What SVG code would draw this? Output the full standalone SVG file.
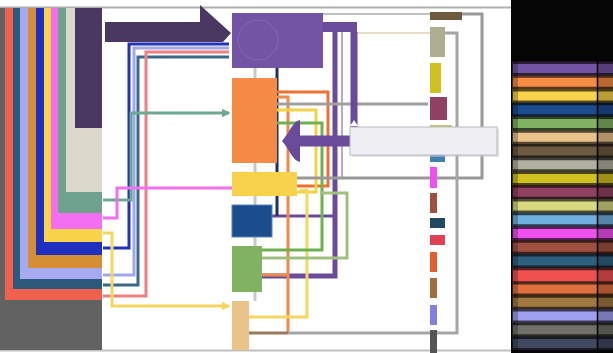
<svg xmlns="http://www.w3.org/2000/svg" width="613" height="353" viewBox="0 0 613 353">
<style>
.c{fill:none;stroke-linejoin:miter}
.w3{stroke-width:3}
.w2{stroke-width:2}
</style>
<defs>
<marker id="ahT" viewBox="0 0 6 6" refX="5" refY="3" markerWidth="3" markerHeight="3" orient="auto"><path d="M0,0L6,3L0,6Z" fill="#6fa890"/></marker>
<marker id="ahY" viewBox="0 0 6 6" refX="5" refY="3" markerWidth="3" markerHeight="3" orient="auto"><path d="M0,0L6,3L0,6Z" fill="#f5d660"/></marker>
</defs>
<rect width="613" height="353" fill="#ffffff"/>
<line x1="0" y1="7.5" x2="511" y2="7.5" stroke="#b0b0b0" stroke-width="2"/>
<line x1="0" y1="350.5" x2="511" y2="350.5" stroke="#c0c0c0" stroke-width="2"/>

<g id="sources">
<rect x="0" y="8" width="102" height="342" fill="#626262"/>
<rect x="5" y="8" width="97" height="292" fill="#f0604f"/>
<rect x="13" y="8" width="89" height="281" fill="#2b5a7a"/>
<rect x="20" y="8" width="82" height="271" fill="#a7aaf0"/>
<rect x="28" y="8" width="74" height="260" fill="#d48f35"/>
<rect x="36" y="8" width="66" height="247" fill="#1f2fbf"/>
<rect x="44" y="8" width="58" height="234" fill="#f9d44a"/>
<rect x="51" y="8" width="51" height="221" fill="#f36ef0"/>
<rect x="58" y="8" width="44" height="205" fill="#6fa18f"/>
<rect x="66" y="8" width="36" height="184" fill="#dcd8cc"/>
<rect x="75" y="8" width="27" height="120" fill="#4b3862"/>
</g>

<g id="connectors">
<line x1="255" y1="68" x2="255" y2="301" stroke="#c8c8c8" stroke-width="3"/>
<polyline class="c w3" stroke="#2233bb" points="103,248 129,248 129,44 229,44"/>
<polyline class="c w3" stroke="#a0a8e8" points="103,275 134,275 134,48 229,48"/>
<polyline class="c w3" stroke="#3a6888" points="103,285 138,285 138,57 229,57"/>
<polyline class="c w3" stroke="#ee8080" points="103,296 146,296 146,52 229,52"/>
<polyline class="c w3" stroke="#6fa890" points="103,200 131,200 131,113 229,113" marker-end="url(#ahT)"/>
<polyline class="c w3" stroke="#f070f0" points="103,218 117,218 117,188 232,188"/>
<polyline class="c w3" stroke="#f5d660" points="103,233 112,233 112,306 229,306" marker-end="url(#ahY)"/>

<polygon points="105,22 200,22 200,5 231,33 223,42 105,42" fill="#4b3862"/>
<rect x="323" y="22" width="34" height="10" fill="#6a4a9a"/>
<line x1="323" y1="14" x2="430" y2="14" stroke="#c0c0c0" stroke-width="2"/>
<line x1="357" y1="33" x2="430" y2="33" stroke="#e4dfc4" stroke-width="2"/>
<line x1="342" y1="32" x2="342" y2="178" stroke="#b8a8d8" stroke-width="2"/>
<polyline class="c" stroke="#6a4a9a" stroke-width="5" points="335,32 335,276 262,276"/>
<polyline class="c" stroke="#6a4a9a" stroke-width="3" points="272,216 335,216"/>
<polyline class="c w3" stroke="#23305a" points="277,68 277,216"/>
<polyline class="c w3" stroke="#f07030" points="277,92 328,92 328,186 297,186"/>
<polyline class="c w3" stroke="#f08a48" points="277,97 288,97 288,333"/>
<line x1="262" y1="275" x2="288" y2="275" stroke="#f08a48" stroke-width="3"/>
<polyline class="c w3" stroke="#9f9f9f" points="277,104 428,104"/>
<polyline class="c w3" stroke="#f0d448" points="277,110 316,110 316,192 297,192"/>
<polyline class="c w3" stroke="#f5d660" points="300,190 307,190 307,317 249,317"/>
<polyline class="c w3" stroke="#70b050" points="277,123 322,123 322,250 262,250"/>
<polyline class="c w3" stroke="#a0c080" points="262,258 347,258 347,193 320,193"/>
<polyline class="c w3" stroke="#999999" points="297,178 482,178 482,14 462,14"/>
<polyline class="c w3" stroke="#a6a6a6" points="288,333 457,333 457,33 445,33"/>
<line x1="249" y1="333" x2="288" y2="333" stroke="#9a7a60" stroke-width="3"/>
<polyline class="c" stroke="#6a4a9a" stroke-width="7" points="354,32 354,137"/>
<polyline class="c" stroke="#6a4a9a" stroke-width="11" points="357.5,141 298,141"/>
<path d="M282,141 C290,132 292,122 300,120 L300,162 C292,160 290,150 282,141 Z" fill="#6a4a9a"/>
<path d="M350,126 L354,120 L358,126 Z" fill="#ffffff"/>
</g>

<g id="n-purple"><rect x="232" y="13" width="91" height="55" fill="#7353a3"/><circle cx="258" cy="40" r="20" fill="none" stroke="#8466b4" stroke-width="1"/></g>
<g id="n-orange"><rect x="232" y="78" width="45" height="85" fill="#f58b45"/></g>
<g id="n-yellow"><rect x="232" y="172" width="65" height="24" fill="#f8d24a"/></g>
<g id="n-blue"><rect x="232" y="205" width="40" height="32" fill="#1b4c8e" stroke="#5a86c0" stroke-width="1"/></g>
<g id="n-green"><rect x="232" y="246" width="30" height="46" fill="#80b261"/></g>
<g id="n-peach"><rect x="232" y="301" width="17" height="49" fill="#eac38a"/></g>

<g id="targets">
<rect x="430" y="12" width="32" height="8" fill="#6e5a40"/>
<rect x="430" y="27" width="15" height="30" fill="#b0ac90"/>
<rect x="430" y="63" width="11" height="30" fill="#d0c020"/>
<rect x="430" y="97" width="17" height="23" fill="#904060"/>
<rect x="430" y="125" width="22" height="8" fill="#c8c070"/>
<rect x="430" y="155" width="15" height="7" fill="#4080b0"/>
<rect x="430" y="167" width="7" height="21" fill="#f050f0"/>
<rect x="430" y="193" width="7" height="20" fill="#a05040"/>
<rect x="430" y="218" width="15" height="10" fill="#204860"/>
<rect x="430" y="235" width="15" height="10" fill="#e04050"/>
<rect x="430" y="252" width="7" height="20" fill="#e06030"/>
<rect x="430" y="278" width="7" height="20" fill="#a07040"/>
<rect x="430" y="305" width="7" height="20" fill="#8080e0"/>
<rect x="430" y="330" width="7" height="23" fill="#555555"/>
</g>

<g id="tooltip">
<rect x="352" y="129" width="147" height="28" fill="#c8c8cc" opacity="0.5"/>
<rect x="350" y="127" width="147" height="28" fill="#f0f0f4" stroke="#b8b8c0" stroke-width="1"/>
</g>

<g id="legend">
<rect x="511" y="0" width="102" height="353" fill="#050505"/>
<g id="rows">
<rect x="512" y="61.5" width="101" height="13.75" fill="#7353a3" opacity="0.35"/><rect x="513" y="64" width="100" height="9" fill="#7353a3"/>
<rect x="512" y="75.25" width="101" height="13.75" fill="#f58b45" opacity="0.35"/><rect x="513" y="77.75" width="100" height="9" fill="#f58b45"/>
<rect x="512" y="89" width="101" height="13.75" fill="#f8d24a" opacity="0.35"/><rect x="513" y="91.5" width="100" height="9" fill="#f8d24a"/>
<rect x="512" y="102.75" width="101" height="13.75" fill="#1b4c8e" opacity="0.35"/><rect x="513" y="105.25" width="100" height="9" fill="#1b4c8e"/>
<rect x="512" y="116.5" width="101" height="13.75" fill="#80b261" opacity="0.35"/><rect x="513" y="119" width="100" height="9" fill="#80b261"/>
<rect x="512" y="130.25" width="101" height="13.75" fill="#eac38a" opacity="0.35"/><rect x="513" y="132.75" width="100" height="9" fill="#eac38a"/>
<rect x="512" y="144" width="101" height="13.75" fill="#6e5a40" opacity="0.35"/><rect x="513" y="146.5" width="100" height="9" fill="#6e5a40"/>
<rect x="512" y="157.75" width="101" height="13.75" fill="#b0b0a0" opacity="0.35"/><rect x="513" y="160.25" width="100" height="9" fill="#b0b0a0"/>
<rect x="512" y="171.5" width="101" height="13.75" fill="#d0c020" opacity="0.35"/><rect x="513" y="174" width="100" height="9" fill="#d0c020"/>
<rect x="512" y="185.25" width="101" height="13.75" fill="#904060" opacity="0.35"/><rect x="513" y="187.75" width="100" height="9" fill="#904060"/>
<rect x="512" y="199" width="101" height="13.75" fill="#d8d880" opacity="0.35"/><rect x="513" y="201.5" width="100" height="9" fill="#d8d880"/>
<rect x="512" y="212.75" width="101" height="13.75" fill="#70b0e0" opacity="0.35"/><rect x="513" y="215.25" width="100" height="9" fill="#70b0e0"/>
<rect x="512" y="226.5" width="101" height="13.75" fill="#f050f0" opacity="0.35"/><rect x="513" y="229" width="100" height="9" fill="#f050f0"/>
<rect x="512" y="240.25" width="101" height="13.75" fill="#a05040" opacity="0.35"/><rect x="513" y="242.75" width="100" height="9" fill="#a05040"/>
<rect x="512" y="254" width="101" height="13.75" fill="#306080" opacity="0.35"/><rect x="513" y="256.5" width="100" height="9" fill="#306080"/>
<rect x="512" y="267.75" width="101" height="13.75" fill="#f05050" opacity="0.35"/><rect x="513" y="270.25" width="100" height="11" fill="#f05050"/>
<rect x="512" y="281.5" width="101" height="13.75" fill="#e07040" opacity="0.35"/><rect x="513" y="284.5" width="100" height="9" fill="#e07040"/>
<rect x="512" y="295.25" width="101" height="13.75" fill="#a07840" opacity="0.35"/><rect x="513" y="297.75" width="100" height="9" fill="#a07840"/>
<rect x="512" y="309" width="101" height="13.75" fill="#a0a0f0" opacity="0.35"/><rect x="513" y="311.5" width="100" height="9" fill="#a0a0f0"/>
<rect x="512" y="322.75" width="101" height="13.75" fill="#707068" opacity="0.35"/><rect x="513" y="325.25" width="100" height="9" fill="#707068"/>
<rect x="512" y="336.5" width="101" height="13.75" fill="#404860" opacity="0.35"/><rect x="513" y="339" width="100" height="9" fill="#404860"/>
</g>
<rect x="598" y="60" width="15" height="293" fill="#000000" opacity="0.25"/>
<rect x="512" y="60" width="6" height="293" fill="#000000" opacity="0.25"/>
<line x1="597.5" y1="60" x2="597.5" y2="353" stroke="#000000" stroke-width="1.5"/>
</g>
</svg>
